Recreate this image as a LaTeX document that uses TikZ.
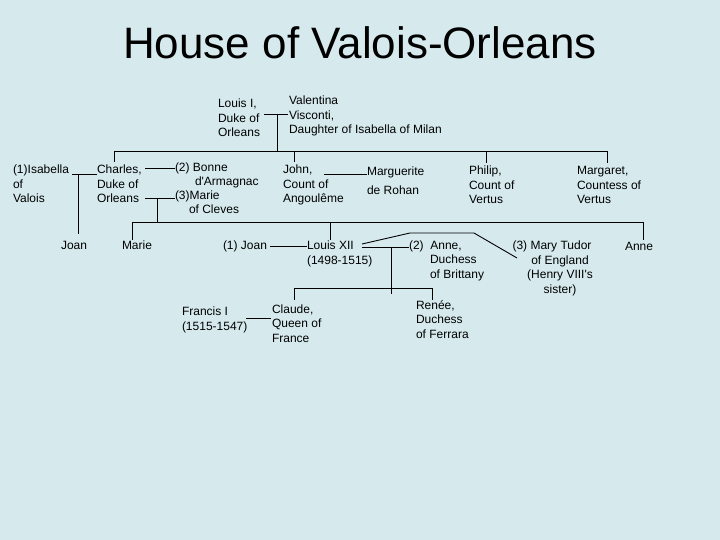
\documentclass[tikz,border=0pt]{standalone}
\usepackage{fontspec}
\setmainfont{Liberation Sans}
\definecolor{bg}{RGB}{214,234,238}
\begin{document}
\begin{tikzpicture}[x=1pt,y=-1pt,
  every node/.style={inner sep=0pt, outer sep=0pt},
  person/.style={font=\fontsize{12}{14.5}\selectfont, align=left, anchor=base west},
  link/.style={line width=0.9pt, black}]
\fill[bg] (0,0) rectangle (720,540);
\useasboundingbox (0,0) rectangle (720,540);

\node[font=\fontsize{44}{50}\selectfont] (title) at (360,43) {House of Valois-Orleans};

% generation 1 (positions are baselines of the last line)
\node[person] (louis) at (218,137) {Louis I,\\Duke of\\Orleans};
\node[person] (valentina) at (289,134) {Valentina\\Visconti,\\Daughter of Isabella of Milan};

% generation 2
\node[person] (isabella) at (13,203) {(1)Isabella\\of\\Valois};
\node[person] (charles) at (97,203) {Charles,\\Duke of\\Orleans};
\node[person] (bonne) at (175,186) {(2) Bonne\\\hspace*{20pt}d\textquotesingle Armagnac};
\node[person] (cleves) at (175,214) {(3)Marie\\\hspace*{14pt}of Cleves};
\node[person] (john) at (283,203) {John,\\Count of\\Angoulême};
\node[person] (marguerite) at (367,195) {Marguerite\\[5pt]de Rohan};
\node[person] (philip) at (469,204) {Philip,\\Count of\\Vertus};
\node[person] (margaret) at (577,204) {Margaret,\\Countess of\\Vertus};

% generation 3
\node[person] (joan) at (61,249) {Joan};
\node[person] (marie) at (122,249) {Marie};
\node[person] (joan1) at (223,249) {(1) Joan};
\node[person] (louis12) at (307,264) {Louis XII\\(1498-1515)};
\node[person] (anneb) at (409,278) {(2)\ \ Anne,\\\hspace*{21pt}Duchess\\\hspace*{21pt}of Brittany};
\node[person, align=center, anchor=base] (mary) at (560,293) {(3) Mary Tudor\hspace*{16pt}\\of England\\(Henry VIII\textquotesingle s\\sister)};
\node[person] (anne) at (625,251) {Anne};

% generation 4
\node[person] (francis) at (182,330) {Francis I\\(1515-1547)};
\node[person] (claude) at (272,342) {Claude,\\Queen of\\France};
\node[person] (renee) at (416,338) {Renée,\\Duchess\\of Ferrara};

% junction coordinates
\coordinate (louisR) at (264,114);
\coordinate (valL) at (288,114);
\coordinate (m1) at (277,114);
\coordinate (m1d) at (277,151);
\coordinate (bar1L) at (114,151);
\coordinate (bar1R) at (607,151);
\coordinate (charlesT) at (114,162);
\coordinate (johnU) at (294,151);
\coordinate (johnT) at (294,162);
\coordinate (philipU) at (486,151);
\coordinate (philipT) at (486,163);
\coordinate (margaretT) at (607,163);

\coordinate (isaR) at (72,174);
\coordinate (charL) at (97,174);
\coordinate (m2) at (78,174);
\coordinate (joanT) at (78,234);

\coordinate (charR1) at (145,168);
\coordinate (bonneL) at (175,168);
\coordinate (charR2) at (145,198);
\coordinate (clevesL) at (175,198);
\coordinate (m3) at (157,198);
\coordinate (m3d) at (157,222);
\coordinate (bar2L) at (132,222);
\coordinate (bar2R) at (643,222);
\coordinate (marieT) at (132,240);
\coordinate (l12U) at (330,222);
\coordinate (l12T) at (330,240);
\coordinate (anneT) at (643,240);

\coordinate (johnR) at (324,174);
\coordinate (margL) at (367,174);

\coordinate (joan1R) at (270,246);
\coordinate (l12L) at (307,246);

\coordinate (l12R1) at (362,247);
\coordinate (annebL) at (409,247);
\coordinate (m4) at (391,247);
\coordinate (m4d) at (391,294);
\coordinate (l12R2) at (362,244);
\coordinate (mk1) at (410,233);
\coordinate (mk2) at (474,233);
\coordinate (maryL) at (517,258);

\coordinate (bar3L) at (294,288);
\coordinate (bar3R) at (432,288);
\coordinate (claudeT) at (294,300);
\coordinate (reneeT) at (432,300);

\coordinate (francisR) at (246,318);
\coordinate (claudeL) at (271,318);

% connectors
\draw[link] (louisR) -- (valL);
\draw[link] (m1) -- (m1d);
\draw[link] (bar1L) -- (bar1R);
\draw[link] (bar1L) -- (charlesT);
\draw[link] (johnU) -- (johnT);
\draw[link] (philipU) -- (philipT);
\draw[link] (bar1R) -- (margaretT);

\draw[link] (isaR) -- (charL);
\draw[link] (m2) -- (joanT);
\draw[link] (charR1) -- (bonneL);
\draw[link] (charR2) -- (clevesL);
\draw[link] (m3) -- (m3d);
\draw[link] (bar2L) -- (bar2R);
\draw[link] (bar2L) -- (marieT);
\draw[link] (l12U) -- (l12T);
\draw[link] (bar2R) -- (anneT);

\draw[link] (johnR) -- (margL);
\draw[link] (joan1R) -- (l12L);
\draw[link] (l12R1) -- (annebL);
\draw[link] (m4) -- (m4d);
\draw[link] (l12R2) -- (mk1) -- (mk2) -- (maryL);
\draw[link] (bar3L) -- (bar3R);
\draw[link] (bar3L) -- (claudeT);
\draw[link] (bar3R) -- (reneeT);
\draw[link] (francisR) -- (claudeL);
\end{tikzpicture}
\end{document}
